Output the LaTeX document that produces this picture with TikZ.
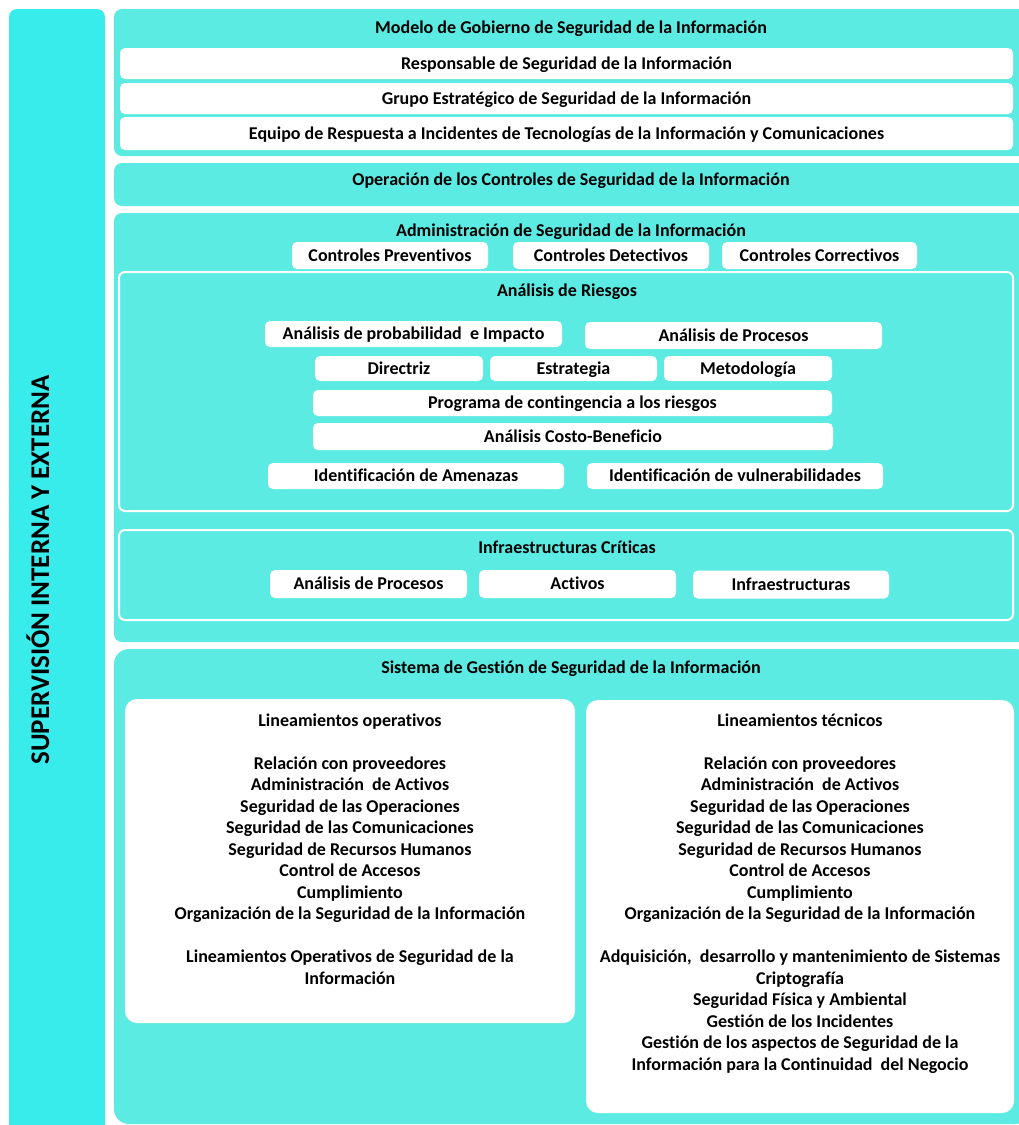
\documentclass[tikz,border=0pt]{standalone}
\usepackage{fontspec}
\setmainfont{Carlito}[Ligatures=CommonOff]

\definecolor{barcyan}{RGB}{56,236,235}
\definecolor{panelcyan}{RGB}{92,235,227}

\tikzset{
  panel/.style={fill=panelcyan, rounded corners=8pt},
  wbox/.style={fill=white, rounded corners=5pt, inner sep=0pt, text height=13pt, text depth=1.5pt},
  frame/.style={draw=white, line width=2pt, rounded corners=6pt},
  title/.style={inner sep=0pt, text height=13pt, text depth=1.5pt}
}

\begin{document}
\begin{tikzpicture}[x=1pt, y=-1pt, font=\fontsize{18}{21.5}\selectfont\bfseries]

\useasboundingbox (0,0) rectangle (1018,1125);
\fill[white] (0,0) rectangle (1018,1125);

% barra lateral
\fill[color=barcyan, rounded corners=8pt] (9,9) rectangle (105,1140);
\node[rotate=90, font=\fontsize{27}{30}\selectfont\bfseries] (superv) at (38,570) {SUPERVISIÓN INTERNA Y EXTERNA};

% paneles
\fill[panel] (114,9) rectangle (1030,156);
\fill[panel] (114,163) rectangle (1030,206);
\fill[panel] (114,213) rectangle (1030,642);
\fill[panel, rounded corners=15pt] (114,649) rectangle (1030,1124);

% modelo de gobierno
\node[title] (modelo) at (571,28) {Modelo de Gobierno de Seguridad de la Información};
\node[wbox, minimum width=893, minimum height=31] (resp) at (566.5,63.5) {Responsable de Seguridad de la Información};
\node[wbox, minimum width=893, minimum height=31] (grupo) at (566.5,98.5) {Grupo Estratégico de Seguridad de la Información};
\node[wbox, minimum width=893, minimum height=33] (equipo) at (566.5,133.5) {Equipo de Respuesta a Incidentes de Tecnologías de la Información y Comunicaciones};

% operacion
\node[title] (operacion) at (571,180) {Operación de los Controles de Seguridad de la Información};

% administracion
\node[title] (admin) at (571,231) {Administración de Seguridad de la Información};
\node[wbox, minimum width=196, minimum height=27] (prev) at (390,255.5) {Controles Preventivos};
\node[wbox, minimum width=196, minimum height=27] (detec) at (611,255.5) {Controles Detectivos};
\node[wbox, minimum width=195, minimum height=27] (correc) at (819.5,255.5) {Controles Correctivos};

% analisis de riesgos
\draw[frame] (119,272) rectangle (1013,511);
\node[title] (riesgos) at (567,291) {Análisis de Riesgos};
\node[wbox, minimum width=297, minimum height=26] (prob) at (413.5,334) {Análisis de probabilidad\ \ e Impacto};
\node[wbox, minimum width=297, minimum height=27] (procesos) at (733.5,335.5) {Análisis de Procesos};
\node[wbox, minimum width=168, minimum height=25] (directriz) at (399,368.5) {Directriz};
\node[wbox, minimum width=167, minimum height=25] (estrategia) at (573.5,368.5) {Estrategia};
\node[wbox, minimum width=168, minimum height=25] (metodo) at (748,368.5) {Metodología};
\node[wbox, minimum width=519, minimum height=26] (programa) at (572.5,403) {Programa de contingencia a los riesgos};
\node[wbox, minimum width=520, minimum height=27] (costo) at (573,436.5) {Análisis Costo-Beneficio};
\node[wbox, minimum width=296, minimum height=26] (amenazas) at (416,476) {Identificación de Amenazas};
\node[wbox, minimum width=296, minimum height=26] (vulner) at (735,476) {Identificación de vulnerabilidades};

% infraestructuras criticas
\draw[frame] (119,530) rectangle (1013,620);
\node[title] (criticas) at (567,548) {Infraestructuras Críticas};
\node[wbox, minimum width=197, minimum height=28] (infproc) at (368.5,584) {Análisis de Procesos};
\node[wbox, minimum width=197, minimum height=28] (activos) at (577.5,584) {Activos};
\node[wbox, minimum width=196, minimum height=28] (infra) at (791,584.5) {Infraestructuras};

% sistema de gestion
\node[title] (sgsi) at (571,668) {Sistema de Gestión de Seguridad de la Información};
\fill[white, rounded corners=12pt] (125,699) rectangle (575,1023);
\fill[white, rounded corners=12pt] (586,700) rectangle (1014,1113);

\node[inner sep=0pt, align=center, anchor=north] (operativos) at (350,711) {\strut Lineamientos operativos\\[21.5pt]
Relación con proveedores\\
Administración\ \ de Activos\\
Seguridad de las Operaciones\\
Seguridad de las Comunicaciones\\
Seguridad de Recursos Humanos\\
Control de Accesos\\
Cumplimiento\\
Organización de la Seguridad de la Información\\[21.5pt]
Lineamientos Operativos de Seguridad de la\\
Información};

\node[inner sep=0pt, align=center, anchor=north] (tecnicos) at (800,711) {\strut Lineamientos técnicos\\[21.5pt]
Relación con proveedores\\
Administración\ \ de Activos\\
Seguridad de las Operaciones\\
Seguridad de las Comunicaciones\\
Seguridad de Recursos Humanos\\
Control de Accesos\\
Cumplimiento\\
Organización de la Seguridad de la Información\\[21.5pt]
Adquisición,\ \ desarrollo y mantenimiento de Sistemas\\
Criptografía\\
Seguridad Física y Ambiental\\
Gestión de los Incidentes\\
Gestión de los aspectos de Seguridad de la\\
Información para la Continuidad\ \ del Negocio};

\end{tikzpicture}
\end{document}
